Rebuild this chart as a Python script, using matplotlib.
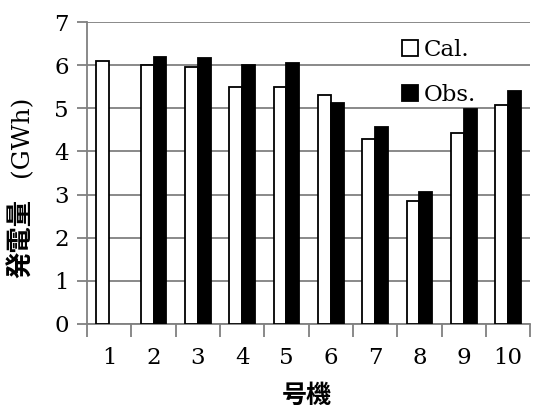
import matplotlib.pyplot as plt
import numpy as np

# --------------------------------------------------
# Data
# --------------------------------------------------
units = ['1', '2', '3', '4', '5', '6', '7', '8', '9', '10']
cal = [6.09, 6.00, 5.96, 5.49, 5.49, 5.30, 4.28, 2.84, 4.42, 5.07]
obs = [np.nan, 6.19, 6.16, 6.01, 6.06, 5.12, 4.57, 3.07, 4.98, 5.41]

plt.rcParams['font.family'] = ['DejaVu Serif', 'Noto Sans CJK JP']

fig = plt.figure(figsize=(5.34, 4.11), dpi=100)
ax = fig.add_axes([0.163, 0.212, 0.830, 0.734])

x = np.arange(1, len(units) + 1)
w = 0.29

ax.bar(x - w / 2, cal, width=w, color='white', edgecolor='black',
       linewidth=1.3, label='Cal.', zorder=3)
ax.bar(x + w / 2, obs, width=w, color='black', edgecolor='black',
       linewidth=1.3, label='Obs.', zorder=3)

# --------------------------------------------------
# Axes
# --------------------------------------------------
ax.set_xlim(0.5, 10.5)
ax.set_ylim(0, 7)
ax.set_yticks(range(0, 8))
ax.yaxis.grid(True, color='#808080', linewidth=1.3, zorder=0)

ax.set_xticks(np.arange(0.5, 10.6, 1.0))
ax.set_xticklabels([])
ax.set_xticks(x, minor=True)
ax.set_xticklabels(units, minor=True)
ax.tick_params(axis='x', which='major', length=9, width=1.3,
               color='#808080', direction='out')
ax.tick_params(axis='x', which='minor', length=0, pad=17, labelsize=16.5)
ax.tick_params(axis='y', length=7, width=1.3, color='#808080',
               labelsize=16.5, pad=6)

for side in ['top', 'right']:
    ax.spines[side].set_visible(False)
for side in ['left', 'bottom']:
    ax.spines[side].set_color('#808080')
    ax.spines[side].set_linewidth(1.3)

# y label: bold kanji + regular unit
fig.text(22 / 534, 1 - 238 / 411, '発電量', rotation=90, fontsize=19,
         fontweight='bold', ha='center', va='center')
fig.text(22 / 534, 1 - 136 / 411, '(GWh)', rotation=90, fontsize=18,
         ha='center', va='center', family='DejaVu Serif')
fig.text(307 / 534, 1 - 396 / 411, '号機', fontsize=18, fontweight='bold',
         ha='center', va='center')

ax.legend(loc='upper left', frameon=False,
          fontsize=16.5, handlelength=0.7, handleheight=0.7,
          handletextpad=0.25, labelspacing=1.0, borderaxespad=0)
ax.get_legend().set_bbox_to_anchor((393 / 534, 1 - 30 / 411), fig.transFigure)

fig.savefig('out.png', dpi=100)
